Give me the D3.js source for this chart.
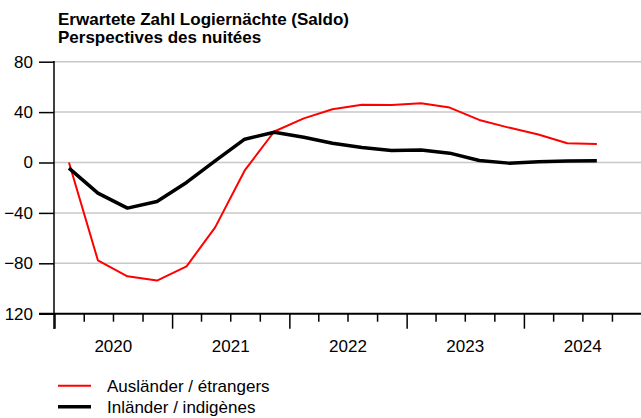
<!DOCTYPE html>
<html>
<head>
<meta charset="utf-8">
<script src="https://cdn.jsdelivr.net/npm/d3@7"></script>
<style>
  body { margin: 0; background: #fff; }
  svg { display: block; font-family: 'Liberation Sans', Arial, sans-serif; }
</style>
</head>
<body>
<svg></svg>
<script>
// data: quarterly balances, 2020 Q1 .. 2024 Q3
var quarters = ['2020-02-15', '2020-05-15', '2020-08-15', '2020-11-15',
  '2021-02-15', '2021-05-15', '2021-08-15', '2021-11-15',
  '2022-02-15', '2022-05-15', '2022-08-15', '2022-11-15',
  '2023-02-15', '2023-05-15', '2023-08-15', '2023-11-15',
  '2024-02-15', '2024-05-15', '2024-08-15']

var auslaender = [0, -77.6, -90.3, -93.7, -82.4, -51.5, -6.3, 24.6,
  35, 42.3, 45.9, 45.7, 47, 43.6, 33.8, 27.7, 22.2, 15.3, 14.6]

var inlaender = [-4.5, -24.3, -36.2, -30.9, -15.8, 1.3, 18.5, 24,
  20.1, 15.3, 11.9, 9.5, 10, 7.4, 1.6, -0.5, 0.5, 1.1, 1.3]

var yTicks = [80, 40, 0, -40, -80, -120]
var yLabels = ['80', '40', '0', '\u221240', '\u221280', '120']
var years = ['2020', '2021', '2022', '2023', '2024']

var series = [
  { name: 'Ausländer / étrangers', values: auslaender, color: '#ff0000', width: 2 },
  { name: 'Inländer / indigènes', values: inlaender, color: '#000', width: 3.5 }
]

// -----------------

var w = 641
var h = 418

var svg = d3.select('svg')
    .attr('width', w)
    .attr('height', h)

var parse = d3.timeParse('%Y-%m-%d')

var x = d3.scaleTime()
    .domain([parse('2020-01-01'), parse('2025-01-01')])
    .range([54.5, 641.5])

var y = d3.scaleLinear()
    .domain([-120, 80])
    .range([313.7, 61.7])

// title
var title = svg.append('g').style('font-weight', 'bold').style('font-size', '17px')
title.append('text').attr('x', 58).attr('y', 25).text('Erwartete Zahl Logiernächte (Saldo)')
title.append('text').attr('x', 58).attr('y', 43).text('Perspectives des nuitées')

// grid
svg.append('g')
  .selectAll('line')
  .data(yTicks.filter(function (d) { return d > -120 }))
  .enter().append('line')
    .attr('x1', 54).attr('x2', w)
    .attr('y1', function (d) { return y(d) })
    .attr('y2', function (d) { return y(d) })
    .attr('stroke', '#c8c8c8')
    .attr('stroke-width', 1.5)

// y axis
var yAxis = svg.append('g')
    .attr('transform', 'translate(54,0)')
    .call(d3.axisLeft(y).tickValues(yTicks).tickSize(15).tickPadding(6)
      .tickFormat(function (d, i) { return yLabels[i] }))
yAxis.select('.domain').remove()
yAxis.append('line')
    .attr('x1', 0).attr('x2', 0)
    .attr('y1', y(80) - 0.75).attr('y2', 329)
    .attr('stroke', '#000').attr('stroke-width', 1.5)

// x axis: quarter ticks, longer ticks at year boundaries
var xAxis = svg.append('g')
    .attr('transform', 'translate(0,' + y(-120) + ')')
    .call(d3.axisBottom(x)
      .ticks(d3.timeMonth.every(3))
      .tickSize(8)
      .tickFormat(''))
xAxis.select('.domain').remove()
xAxis.selectAll('.tick line')
    .attr('y2', function (d) { return d.getMonth() === 0 ? 15 : 8 })
xAxis.append('line')
    .attr('x1', 39).attr('x2', w)
    .attr('stroke', '#000').attr('stroke-width', 2)

svg.selectAll('.tick line').attr('stroke', '#000').attr('stroke-width', 1.5)
svg.selectAll('.tick text')
    .attr('fill', '#000')
    .style('font-size', '17px')
    .style('font-family', "'Liberation Sans', Arial, sans-serif")

// year labels centered in each year
svg.append('g')
  .selectAll('text')
  .data(years)
  .enter().append('text')
    .attr('x', function (d) {
      return (x(parse(d + '-01-01')) + x(parse((+d + 1) + '-01-01'))) / 2
    })
    .attr('y', 352)
    .attr('text-anchor', 'middle')
    .style('font-size', '17px')
    .text(function (d) { return d })

// lines
var line = d3.line()
    .x(function (d, i) { return x(parse(quarters[i])) })
    .y(function (d) { return y(d) })

svg.append('g')
  .selectAll('path')
  .data(series)
  .enter().append('path')
    .attr('d', function (d) { return line(d.values) })
    .attr('fill', 'none')
    .attr('stroke', function (d) { return d.color })
    .attr('stroke-width', function (d) { return d.width })
    .attr('stroke-linejoin', 'round')

// legend
var legend = svg.append('g')
  .selectAll('g')
  .data(series)
  .enter().append('g')
    .attr('transform', function (d, i) { return 'translate(0,' + (385.7 + i * 21) + ')' })

legend.append('line')
    .attr('x1', 58).attr('x2', 91)
    .attr('stroke', function (d) { return d.color })
    .attr('stroke-width', function (d) { return d.width })

legend.append('text')
    .attr('x', 107)
    .attr('y', 6)
    .style('font-size', '17px')
    .text(function (d) { return d.name })
</script>
</body>
</html>
